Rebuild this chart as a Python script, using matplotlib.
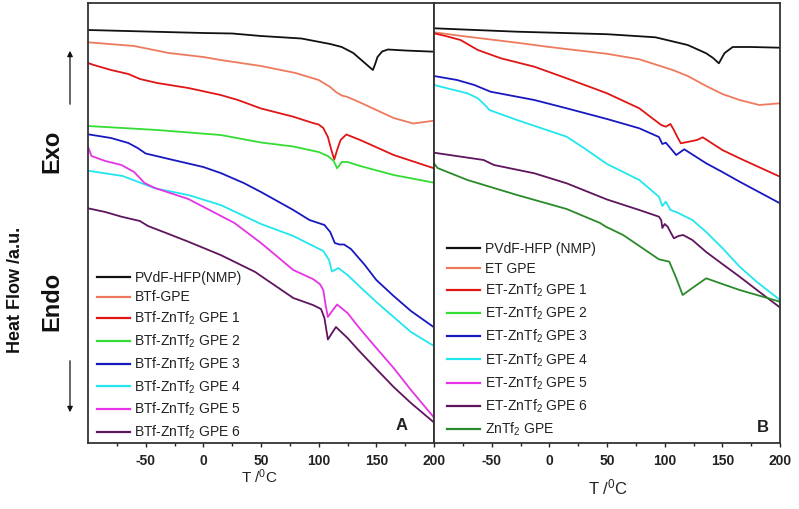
import matplotlib
matplotlib.use("Agg")
import matplotlib.pyplot as plt
from matplotlib.lines import Line2D

plt.rcParams['font.family'] = ['Liberation Sans', 'DejaVu Sans']
plt.rcParams['mathtext.fontset'] = 'custom'
plt.rcParams['mathtext.rm'] = 'Liberation Sans'
plt.rcParams['mathtext.it'] = 'Liberation Sans:italic'
plt.rcParams['mathtext.bf'] = 'Liberation Sans:bold'
plt.rcParams['mathtext.default'] = 'regular'
plt.rcParams['axes.unicode_minus'] = False

# ---- panel A: BTf series (T in degC, heat flow in a.u.) ----
tA_black = [-100, -50, 0, 25, 50, 85, 110, 120, 130, 136, 142, 147, 149, 151, 155, 160, 175, 200]
hA_black = [413, 411.5, 410, 409.5, 407, 404.5, 399, 396, 390, 384, 378, 373, 379, 386, 391.5, 393.5, 392.5, 391.3]

tA_salmon = [-100, -60, -30, 0, 15, 50, 80, 100, 110, 115, 120, 125, 135, 150, 165, 182, 200]
hA_salmon = [400.7, 397, 390, 386, 383, 377, 370, 363, 356, 351, 347.5, 346, 341, 333, 325, 319.5, 322.3]

tA_red = [-100, -95, -80, -65, -55, -40, -13, 15, 30, 50, 78, 95, 100, 104, 108, 111, 113.5, 116, 119, 124, 136, 165, 200]
hA_red = [380, 378, 373, 369, 364, 360, 355, 348, 343, 334.5, 326.3, 320, 318.5, 315, 306, 293, 283.5, 293, 303, 308.5, 303, 288, 274.7]

tA_green = [-100, -40, 15, 50, 78, 100, 108, 113, 116, 120, 125, 136, 165, 200]
hA_green = [317, 313, 308, 300.5, 296.5, 291, 287, 282, 274.7, 281, 281, 277, 268, 260.3]

tA_blue = [-100, -80, -65, -57, -50, -28, 0, 15, 35, 50, 78, 92, 105, 110, 114, 118, 122, 128, 140, 150, 165, 180, 200]
hA_blue = [308.7, 305, 300, 295, 289.5, 283.5, 276, 270, 260, 251, 233, 223, 218, 211, 200, 198.5, 198.5, 194, 178, 163, 147, 132, 115.7]

tA_cyan = [-100, -70, -57, -42, -13, 15, 50, 78, 104, 109, 111.5, 114, 117, 125, 136, 150, 165, 180, 200]
hA_cyan = [272.3, 267, 261.3, 254.7, 248, 238, 219, 207, 192, 183, 171.5, 173, 175, 168, 156, 141, 126, 111, 97]

tA_magenta = [-100, -97, -85, -71, -60, -51, -42, -13, 27, 50, 78, 95, 101, 104, 106, 108, 111, 116, 125, 136, 150, 165, 180, 200]
hA_magenta = [296.3, 287, 282, 278, 271, 260, 255, 244, 220, 200, 173, 164, 159, 153, 138, 126, 131, 138.5, 130, 114, 95, 75, 53, 25.5]

tA_purple = [-100, -85, -71, -55, -48, -30, -13, 15, 45, 50, 78, 95, 102, 105, 108, 111, 115, 125, 136, 150, 165, 180, 200]
hA_purple = [234.7, 231, 226.3, 222, 217, 209, 201.3, 188, 171, 167, 145, 138, 134, 125, 103.5, 109, 116, 105, 91, 74, 56, 40, 20.5]

# ---- panel B: ET series ----
tB_black = [-100, -28, 50, 92, 120, 136, 142, 147, 150, 152, 159, 175, 200]
hB_black = [414.7, 411.3, 408.8, 405.7, 398, 389.7, 385, 379.7, 386, 390, 396, 396, 395.3]

tB_salmon = [-100, -71, -28, 0, 50, 78, 107, 120, 136, 150, 165, 182, 200]
hB_salmon = [410.7, 406.3, 400.3, 396, 389.2, 383.7, 373, 367, 357, 349, 343, 338, 339.7]

tB_red = [-100, -90, -77, -62, -42, -13, 15, 50, 78, 97, 101, 105, 108, 111, 114, 121, 128, 133, 150, 165, 200]
hB_red = [409.7, 407, 403, 393, 384.7, 376.3, 364.7, 349.7, 334.7, 318, 316.3, 319, 313, 306, 299.7, 301.3, 303, 305.7, 293, 284.7, 266.3]

tB_blue = [-100, -80, -65, -51, -13, 15, 50, 78, 95, 98, 101, 104, 110, 117, 136, 150, 165, 200]
hB_blue = [367, 363, 358, 351.3, 343, 334.7, 324, 314.7, 306, 299, 300.3, 296.3, 288, 293.7, 279.7, 271, 261.3, 239.7]

tB_cyan = [-100, -71, -62, -55, -52, -28, 15, 30, 50, 78, 95, 98, 101, 105, 110, 124, 136, 150, 165, 180, 200]
hB_cyan = [358, 349.7, 344.7, 337, 333, 323, 306.3, 295, 279, 263, 246.3, 237, 241.3, 233, 231, 223, 211, 195, 176.3, 161, 143]

tB_purple = [-100, -57, -48, -13, 15, 50, 78, 95, 97, 98, 100, 102.6, 105, 108, 112, 116, 124, 136, 150, 165, 180, 200]
hB_purple = [290.3, 283, 278, 269.7, 259.7, 243.5, 233, 226.3, 223, 215, 219, 216.3, 211, 204.7, 207, 208, 203, 191, 179, 166.3, 153, 135.5]

tB_dkgreen = [-100, -97, -71, -28, 15, 44, 49, 64, 95, 104, 110, 115.6, 124, 136, 150, 165, 200]
hB_dkgreen = [279.7, 275, 263, 248, 234, 220, 216.3, 208, 183.7, 181.3, 165, 148, 155, 164.7, 159, 153, 141.3]

labels_A = ['PVdF-HFP(NMP)', 'BTf-GPE', 'BTf-ZnTf$_2$ GPE 1', 'BTf-ZnTf$_2$ GPE 2',
            'BTf-ZnTf$_2$ GPE 3', 'BTf-ZnTf$_2$ GPE 4', 'BTf-ZnTf$_2$ GPE 5', 'BTf-ZnTf$_2$ GPE 6']
labels_B = ['PVdF-HFP (NMP)', 'ET GPE', 'ET-ZnTf$_2$ GPE 1', 'ET-ZnTf$_2$ GPE 2',
            'ET-ZnTf$_2$ GPE 3', 'ET-ZnTf$_2$ GPE 4', 'ET-ZnTf$_2$ GPE 5', 'ET-ZnTf$_2$ GPE 6',
            'ZnTf$_2$ GPE']

c_black = '#111111'
c_salmon = '#EE7A5E'
c_red = '#E01515'
c_green = '#33DD33'
c_blue = '#1818C0'
c_cyan = '#22E6EE'
c_magenta = '#E633E6'
c_purple = '#5E155E'
c_dkgreen = '#2A8A2A'

fig = plt.figure(figsize=(7.99, 5.09), dpi=100)
axA = fig.add_axes([88 / 799, 66 / 509, 346 / 799, 440 / 509])
axB = fig.add_axes([434 / 799, 66 / 509, 346 / 799, 440 / 509])

lw = 1.3
curvesA = [(tA_black, hA_black, c_black), (tA_salmon, hA_salmon, c_salmon),
           (tA_red, hA_red, c_red), (tA_green, hA_green, c_green),
           (tA_blue, hA_blue, c_blue), (tA_cyan, hA_cyan, c_cyan),
           (tA_magenta, hA_magenta, c_magenta), (tA_purple, hA_purple, c_purple)]
for t, h, c in curvesA:
    axA.plot(t, h, color=c, lw=lw)

curvesB = [(tB_black, hB_black, c_black), (tB_salmon, hB_salmon, c_salmon),
           (tB_red, hB_red, c_red), (tB_blue, hB_blue, c_blue),
           (tB_cyan, hB_cyan, c_cyan), (tB_purple, hB_purple, c_purple),
           (tB_dkgreen, hB_dkgreen, c_dkgreen)]
for t, h, c in curvesB:
    axB.plot(t, h, color=c, lw=lw)

for ax in (axA, axB):
    ax.set_xlim(-100, 200)
    ax.set_ylim(0, 440)
    ax.set_yticks([])
    ax.set_xticks([-50, 0, 50, 100, 150, 200])
    ax.set_xticks([-75, -25, 25, 75, 125, 175], minor=True)
    ax.tick_params(axis='x', which='major', direction='out', length=3, width=1, labelsize=10, pad=5, colors='#222222')
    ax.tick_params(axis='x', which='minor', direction='out', length=2, width=1, colors='#222222')
    for lab in ax.get_xticklabels():
        lab.set_fontweight('bold')
    for sp in ax.spines.values():
        sp.set_color('#333333')
        sp.set_linewidth(1.3)

colors_A = [c_black, c_salmon, c_red, c_green, c_blue, c_cyan, c_magenta, c_purple]
colors_B = [c_black, c_salmon, c_red, c_green, c_blue, c_cyan, c_magenta, c_purple, c_dkgreen]
hA = [Line2D([], [], color=c, lw=1.6) for c in colors_A]
hB = [Line2D([], [], color=c, lw=1.6) for c in colors_B]

legA = axA.legend(hA, labels_A, loc='upper left', bbox_to_anchor=(0.026, 0.391), frameon=False,
                  fontsize=10, borderpad=0, borderaxespad=0, handlelength=2.4, handletextpad=0.3,
                  labelspacing=0.39)
legB = axB.legend(hB, labels_B, loc='upper left', bbox_to_anchor=(0.037, 0.457), frameon=False,
                  fontsize=10, borderpad=0, borderaxespad=0, handlelength=2.4, handletextpad=0.35,
                  labelspacing=0.42)
for leg in (legA, legB):
    for txt in leg.get_texts():
        txt.set_color('#222222')

axA.text(0.905, 0.04, 'A', transform=axA.transAxes, fontsize=12, fontweight='bold', ha='center', va='center', color='#222222')
axB.text(0.95, 0.036, 'B', transform=axB.transAxes, fontsize=12, fontweight='bold', ha='center', va='center', color='#222222')

fig.text(259 / 799, 1 - 477 / 509, 'T /$^{0}$C', fontsize=11, ha='center', va='center', color='#222222')
fig.text(608 / 799, 1 - 487 / 509, 'T /$^{0}$C', fontsize=12, ha='center', va='center', color='#222222')

fig.text(16 / 799, 1 - 290 / 509, 'Heat Flow /a.u.', rotation=90, fontsize=13, fontweight='bold', ha='center', va='center', color='#111111')
fig.text(52 / 799, 1 - 151 / 509, 'Exo', rotation=90, fontsize=17, fontweight='bold', ha='center', va='center', color='#111111')
fig.text(52 / 799, 1 - 301 / 509, 'Endo', rotation=90, fontsize=17, fontweight='bold', ha='center', va='center', color='#111111')

fig.add_artist(matplotlib.patches.FancyArrowPatch((70 / 799, 1 - 107 / 509), (70 / 799, 1 - 48 / 509),
               transform=fig.transFigure, arrowstyle='-|>', mutation_scale=8, color='#111111', lw=0.9))
fig.add_artist(matplotlib.patches.FancyArrowPatch((70 / 799, 1 - 358 / 509), (70 / 799, 1 - 415 / 509),
               transform=fig.transFigure, arrowstyle='-|>', mutation_scale=8, color='#111111', lw=0.9))

fig.savefig('out.png', dpi=100)
